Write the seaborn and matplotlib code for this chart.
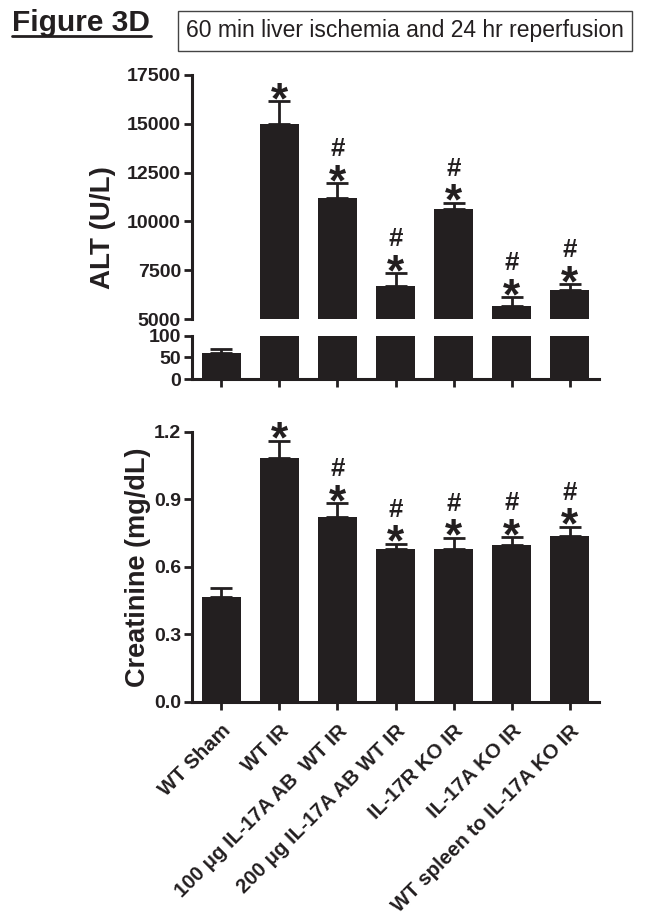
import matplotlib
matplotlib.use('Agg')
import matplotlib.pyplot as plt
from matplotlib.lines import Line2D
from matplotlib.textpath import TextPath
from matplotlib.font_manager import FontProperties
import numpy as np
import seaborn as sns

groups = ['WT Sham', 'WT IR', '100 \u03bcg IL-17A AB  WT IR', '200 \u03bcg IL-17A AB WT IR',
          'IL-17R KO IR', 'IL-17A KO IR', 'WT spleen to IL-17A KO IR']
alt_mean = [60, 15000, 11200, 6700, 10650, 5680, 6470]
alt_sem = [10, 1150, 750, 650, 300, 430, 320]
creat_mean = [0.467, 1.084, 0.822, 0.679, 0.680, 0.695, 0.738]
creat_sem = [0.037, 0.075, 0.060, 0.022, 0.049, 0.036, 0.040]
star = [False, True, True, True, True, True, True]
hash_mark = [False, False, True, True, True, True, True]
alt_hi_ticks = [5000, 7500, 10000, 12500, 15000, 17500]
alt_lo_ticks = [0, 50, 100]
creat_ticks = [0.0, 0.3, 0.6, 0.9, 1.2]

INK = '#231f20'
W, H = 651, 921
PX = 72 / 100  # points per pixel at dpi 100

sns.set_style('ticks')
plt.rcParams['font.family'] = ['Liberation Sans', 'DejaVu Sans']
plt.rcParams['font.weight'] = 'bold'
plt.rcParams['axes.linewidth'] = 2.2
plt.rcParams['text.color'] = INK

# glyph ink boxes, used to size and place the significance marks
bold = FontProperties(family='Liberation Sans', weight='bold')
star_box = TextPath((0, 0), '*', size=100, prop=bold).get_extents()
hash_box = TextPath((0, 0), '#', size=100, prop=bold).get_extents()
star_size = 17 * PX / (star_box.width / 100)
hash_size = 13.5 * PX / (hash_box.width / 100)
star_y = 1.5 - star_size * star_box.y0 / 100
hash_y = 19.5 - hash_size * hash_box.y0 / 100


def px_axes(fig, left, top, right, bottom):
    return fig.add_axes([left / W, 1 - bottom / H, (right - left) / W, (bottom - top) / H])


def draw_bars(ax, means, sems):
    sns.barplot(x=groups, y=means, color=INK, width=0.67, saturation=1,
                linewidth=0, ax=ax)
    ax.errorbar(range(len(groups)), means, yerr=[np.zeros(len(groups)), sems],
                fmt='none', ecolor=INK, elinewidth=2, capsize=8, capthick=2, zorder=3)
    ax.set_xlim(-0.5, 6.5)
    ax.set_xlabel('')
    ax.set_ylabel('')
    ax.tick_params(axis='both', direction='out', length=6, width=2, colors=INK,
                   labelsize=14, pad=2)
    for s in ['top', 'right']:
        ax.spines[s].set_visible(False)
    for s in ['left', 'bottom']:
        ax.spines[s].set_color(INK)


def draw_marks(ax, means, sems):
    for i, (m, e) in enumerate(zip(means, sems)):
        if star[i]:
            ax.annotate('*', (i, m + e), xytext=(0, star_y), textcoords='offset points',
                        ha='center', va='baseline', fontsize=star_size, fontweight='bold',
                        color=INK, annotation_clip=False)
        if hash_mark[i]:
            ax.annotate('#', (i, m + e), xytext=(0, hash_y), textcoords='offset points',
                        ha='center', va='baseline', fontsize=hash_size, fontweight='bold',
                        color=INK, annotation_clip=False)


fig = plt.figure(figsize=(W / 100, H / 100), dpi=100)

ax_hi = px_axes(fig, 192, 75, 599, 319)
ax_lo = px_axes(fig, 192, 336, 599, 379)
ax_cr = px_axes(fig, 192, 431.7, 599, 701.7)

# ALT, upper part of broken axis
draw_bars(ax_hi, alt_mean, alt_sem)
ax_hi.set_ylim(5000, 17500)
ax_hi.set_yticks(alt_hi_ticks)
ax_hi.set_yticklabels([str(t) for t in alt_hi_ticks])
ax_hi.spines['bottom'].set_visible(False)
ax_hi.tick_params(axis='x', length=0, labelbottom=False)
draw_marks(ax_hi, alt_mean, alt_sem)

# ALT, lower part of broken axis
draw_bars(ax_lo, alt_mean, alt_sem)
ax_lo.set_ylim(0, 100)
ax_lo.set_yticks(alt_lo_ticks)
ax_lo.set_yticklabels([str(t) for t in alt_lo_ticks])
ax_lo.tick_params(axis='x', labelbottom=False)

# creatinine
draw_bars(ax_cr, creat_mean, creat_sem)
ax_cr.set_ylim(0, 1.2)
ax_cr.set_yticks(creat_ticks)
ax_cr.set_yticklabels([f'{t:.1f}' for t in creat_ticks])
ax_cr.set_xticks(range(len(groups)))
ax_cr.set_xticklabels(groups, rotation=45, ha='right', rotation_mode='anchor',
                      fontsize=14.7, fontweight='bold')
ax_cr.tick_params(axis='x', pad=8)
draw_marks(ax_cr, creat_mean, creat_sem)

fig.text(103 / W, 1 - 228 / H, 'ALT (U/L)', rotation=90, ha='center', va='center',
         fontsize=20, fontweight='bold')
fig.text(138 / W, 1 - 567 / H, 'Creatinine (mg/dL)', rotation=90, ha='center',
         va='center', fontsize=19.5, fontweight='bold')

fig.text(12 / W, 1 - 31 / H, 'Figure 3D', ha='left', va='baseline', fontsize=21.5,
         fontweight='bold')
fig.add_artist(Line2D([12 / W, 151 / W], [1 - 36 / H, 1 - 36 / H], color=INK, lw=2))
fig.text(405 / W, 1 - 31 / H, '60 min liver ischemia and 24 hr reperfusion',
         ha='center', va='center', fontsize=16.5, fontweight='normal',
         bbox=dict(boxstyle='square,pad=0.35', fc='white', ec='#444444', lw=1))

fig.savefig('out.png', dpi=100)
